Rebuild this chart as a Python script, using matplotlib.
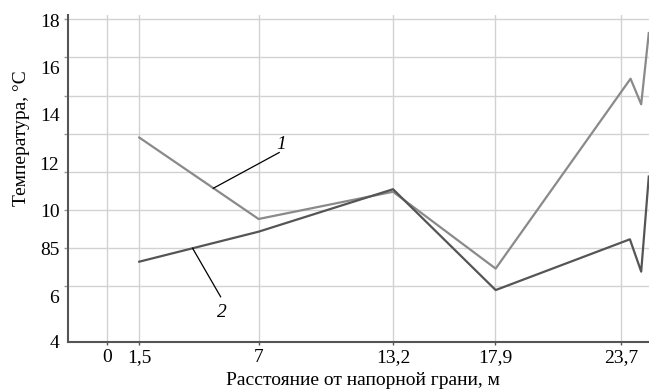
import matplotlib.pyplot as plt

plt.rcParams['font.family'] = ['Liberation Serif', 'DejaVu Serif']

# distance from the pressure face, m
x_curve_1 = [1.5, 7.0, 13.2, 17.93, 24.15, 24.64, 24.99]
t_curve_1 = [12.86, 9.33, 10.51, 7.18, 15.41, 14.30, 17.39]
x_curve_2 = [1.5, 7.0, 13.2, 17.93, 24.12, 24.64, 24.99]
t_curve_2 = [7.48, 8.78, 10.62, 6.25, 8.45, 7.05, 11.17]

X_TICKS = [0, 1.5, 7, 13.2, 17.9, 23.7]
X_TICK_LABELS = ['0', '1,5', '7', '13,2', '17,9', '23,7']
Y_TICKS = [17.93, 15.89, 13.87, 11.75, 9.68, 8.06, 5.96, 4.01]
Y_TICK_LABELS = ['18', '16', '14', '12', '10', '85', '6', '4']
Y_GRID = [18.0, 16.35, 14.66, 13.02, 11.37, 9.72, 8.07, 6.43]

fig = plt.figure(figsize=(6.49, 3.92), dpi=100)
ax = fig.add_axes([0.1043, 0.1276, 0.8957, 0.8341])

ax.plot(x_curve_1, t_curve_1, color='#8a8a8a', linewidth=1.6, zorder=3)
ax.plot(x_curve_2, t_curve_2, color='#555555', linewidth=1.6, zorder=3)

# leader lines and curve numbers
ax.plot([4.91, 7.95], [10.66, 12.21], color='black', linewidth=0.9, zorder=4)
ax.text(8.06, 12.54, '1', fontsize=14, style='italic', ha='center', va='center')
ax.plot([3.96, 5.25], [8.06, 5.96], color='black', linewidth=0.9, zorder=4)
ax.text(5.30, 5.27, '2', fontsize=14, style='italic', ha='center', va='center')

ax.set_xlim(-1.8, 25.0)
ax.set_ylim(4, 18.17)

ax.set_xticks(X_TICKS, X_TICK_LABELS)
ax.set_yticks(Y_TICKS, Y_TICK_LABELS)
ax.set_yticks(Y_GRID, minor=True)

ax.grid(axis='x', which='major', color='#d2d2d2', linewidth=1.0)
ax.grid(axis='y', which='minor', color='#d2d2d2', linewidth=1.0)
ax.set_axisbelow(True)

ax.tick_params(axis='x', which='major', length=2, width=1, color='#555555',
               labelsize=14, pad=3)
ax.tick_params(axis='y', which='major', length=0, labelsize=14, pad=6)
ax.tick_params(axis='y', which='minor', length=3, width=1, color='#999999')

for side in ['top', 'right']:
    ax.spines[side].set_visible(False)
for side in ['left', 'bottom']:
    ax.spines[side].set_color('#555555')
    ax.spines[side].set_linewidth(1.5)

ax.set_xlabel('Расстояние от напорной грани, м', fontsize=14)
ax.set_ylabel('Температура, °C', fontsize=14)
ax.xaxis.set_label_coords(0.508, -0.093)
ax.yaxis.set_label_coords(-0.065, 0.624)

fig.savefig('out.png', dpi=100)
